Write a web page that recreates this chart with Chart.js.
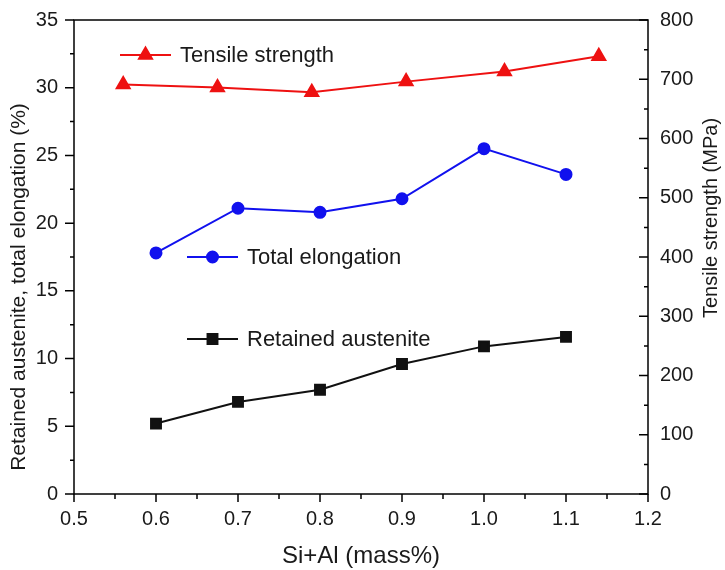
<!DOCTYPE html>
<html>
<head>
<meta charset="utf-8">
<script src="https://cdn.jsdelivr.net/npm/chart.js@4/dist/chart.umd.min.js"></script>
<style>
  html, body { margin:0; padding:0; background:#fff; }
  #wrap { width:725px; height:570px; }
</style>
</head>
<body>
<div id="wrap"><canvas id="c" width="725" height="570"></canvas></div>
<script>
/* ── Data ───────────────────────────────────────────────── */
const SI_AL        = [0.6, 0.7, 0.8, 0.9, 1.0, 1.1];
const AUSTENITE    = [5.2, 6.8, 7.7, 9.6, 10.9, 11.6];
const ELONGATION   = [17.8, 21.1, 20.8, 21.8, 25.5, 23.6];
const SI_AL_TS     = [0.56, 0.675, 0.79, 0.905, 1.025, 1.14];
const STRENGTH     = [691, 686, 678, 696, 713, 739];

const X_TITLE  = "Si+Al (mass%)";
const Y_TITLE  = "Retained austenite, total elongation (%)";
const Y2_TITLE = "Tensile strength (MPa)";

const FONT = "'Liberation Sans', Arial, sans-serif";
const RED = "#ee1111", BLUE = "#1111ee", BLACK = "#111111", TXT = "#1a1a1a";

const pts = (xs, ys) => xs.map((x, i) => ({ x, y: ys[i] }));

/* ── Frame + in/out ticks like the Origin plot ──────────── */
const framePlugin = {
  id: "frame",
  afterDraw(chart) {
    const { ctx, chartArea: a, scales } = chart;
    ctx.save();
    ctx.strokeStyle = "#000";
    ctx.lineWidth = 1.5;
    ctx.strokeRect(a.left, a.top, a.right - a.left, a.bottom - a.top);
    ctx.beginPath();
    // bottom axis, outward
    for (let i = 0; i <= 14; i++) {
      const x = scales.x.getPixelForValue(0.5 + i * 0.05);
      ctx.moveTo(x, a.bottom);
      ctx.lineTo(x, a.bottom + (i % 2 ? 5 : 8));
    }
    // left axis, outward
    for (let i = 0; i <= 14; i++) {
      const y = scales.y.getPixelForValue(i * 2.5);
      ctx.moveTo(a.left, y);
      ctx.lineTo(a.left - (i % 2 ? 4 : 9), y);
    }
    // right axis, inward
    for (let i = 0; i <= 16; i++) {
      const y = scales.y2.getPixelForValue(i * 50);
      ctx.moveTo(a.right, y);
      ctx.lineTo(a.right - (i % 2 ? 4 : 9), y);
    }
    ctx.stroke();

    // axis titles (both y titles read bottom-to-top)
    ctx.fillStyle = TXT;
    ctx.textAlign = "center";
    ctx.textBaseline = "middle";
    ctx.font = "24px " + FONT;
    ctx.fillText(X_TITLE, (a.left + a.right) / 2, 556);
    ctx.save();
    ctx.translate(19, 287);
    ctx.rotate(-Math.PI / 2);
    ctx.font = "21px " + FONT;
    ctx.fillText(Y_TITLE, 0, 0);
    ctx.restore();
    ctx.save();
    ctx.translate(711, 218);
    ctx.rotate(-Math.PI / 2);
    ctx.font = "20px " + FONT;
    ctx.fillText(Y2_TITLE, 0, 0);
    ctx.restore();
    ctx.restore();
  },
};

/* ── In-plot legend labels ──────────────────────────────── */
const LEGEND = [
  { ds: 0, dx: 46,  dy: 35,  text: "Tensile strength" },
  { ds: 1, dx: 113, dy: 237, text: "Total elongation" },
  { ds: 2, dx: 113, dy: 319, text: "Retained austenite" },
];
const legendPlugin = {
  id: "inlegend",
  afterDatasetsDraw(chart) {
    const { ctx, chartArea: a } = chart;
    ctx.save();
    LEGEND.forEach(l => {
      const d = chart.data.datasets[l.ds];
      const x0 = a.left + l.dx, y = a.top + l.dy;
      ctx.strokeStyle = d.borderColor;
      ctx.lineWidth = 2;
      ctx.beginPath();
      ctx.moveTo(x0, y); ctx.lineTo(x0 + 51, y);
      ctx.stroke();
      ctx.fillStyle = d.pointBackgroundColor;
      Chart.helpers.drawPoint(ctx, {
        pointStyle: d.pointStyle, radius: d.pointRadius, borderWidth: 1, rotation: 0,
      }, x0 + 25.5, y);
      ctx.fillStyle = TXT;
      ctx.font = "22px " + FONT;
      ctx.textBaseline = "middle";
      ctx.fillText(l.text, x0 + 60, y + 1);
    });
    ctx.restore();
  },
};

const tickFont = { family: FONT, size: 20 };

new Chart(document.getElementById("c"), {
  type: "scatter",
  data: {
    datasets: [
      { label: "Tensile strength", data: pts(SI_AL_TS, STRENGTH), yAxisID: "y2",
        showLine: true, borderColor: RED, backgroundColor: RED,
        pointBackgroundColor: RED, pointBorderColor: RED,
        pointStyle: "triangle", pointRadius: 7.5, borderWidth: 2 },
      { label: "Total elongation", data: pts(SI_AL, ELONGATION), yAxisID: "y",
        showLine: true, borderColor: BLUE, backgroundColor: BLUE,
        pointBackgroundColor: BLUE, pointBorderColor: BLUE,
        pointStyle: "circle", pointRadius: 5.5, borderWidth: 2 },
      { label: "Retained austenite", data: pts(SI_AL, AUSTENITE), yAxisID: "y",
        showLine: true, borderColor: BLACK, backgroundColor: BLACK,
        pointBackgroundColor: BLACK, pointBorderColor: BLACK,
        pointStyle: "rect", pointRadius: 7, borderWidth: 2 },
    ],
  },
  options: {
    responsive: false,
    animation: false,
    layout: { padding: { top: 18, left: 0, right: 0, bottom: 0 } },
    plugins: { legend: { display: false }, tooltip: { enabled: false } },
    scales: {
      x: {
        type: "linear", min: 0.5, max: 1.2,
        grid: { display: false }, border: { display: false },
        ticks: { stepSize: 0.1, color: TXT, font: tickFont, padding: 5,
                 callback: v => v.toFixed(1) },
        afterFit: s => { s.height = 76; },
      },
      y: {
        position: "left", min: 0, max: 35,
        grid: { display: false }, border: { display: false },
        ticks: { stepSize: 5, color: TXT, font: tickFont, padding: 8 },
        afterFit: s => { s.width = 74; },
      },
      y2: {
        position: "right", min: 0, max: 800,
        grid: { display: false }, border: { display: false },
        ticks: { stepSize: 100, color: TXT, font: tickFont, padding: 4 },
        afterFit: s => { s.width = 77; },
      },
    },
  },
  plugins: [framePlugin, legendPlugin],
});
</script>
</body>
</html>
